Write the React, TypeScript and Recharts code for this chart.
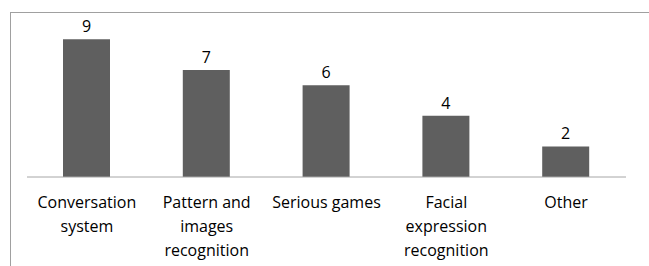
import { Bar, BarChart, LabelList, XAxis, YAxis } from "recharts";

const categories = [
  "Conversation\nsystem",
  "Pattern and\nimages\nrecognition",
  "Serious games",
  "Facial\nexpression\nrecognition",
  "Other",
];
const counts = [9, 7, 6, 4, 2];

const data = categories.map((name, i) => ({ name, count: counts[i] }));

const FONT = "'Open Sans', sans-serif";

function WrappedTick({ x, y, payload }: { x?: number; y?: number; payload?: { value: string } }) {
  const lines = String(payload?.value ?? "").split("\n");
  return (
    <text x={x} y={y} textAnchor="middle" fill="#000" fontFamily={FONT} fontSize={16}>
      {lines.map((line, i) => (
        <tspan key={i} x={x} dy={i === 0 ? 23 : 24}>
          {line}
        </tspan>
      ))}
    </text>
  );
}

export default function App() {
  return (
    <div style={{ position: "absolute", left: 0, top: 0, width: 649, height: 266, background: "#fff" }}>
      <div
        style={{
          position: "absolute",
          left: 10,
          top: 12,
          right: 0,
          bottom: 0,
          borderTop: "1px solid #a0a0a0",
          borderLeft: "1px solid #a0a0a0",
        }}
      />
      <BarChart
        width={649}
        height={266}
        data={data}
        margin={{ top: 24, right: 23, bottom: 0, left: 27 }}
        style={{ position: "absolute", left: 0, top: 0 }}
      >
        <XAxis
          dataKey="name"
          interval={0}
          height={89}
          tickLine={false}
          axisLine={{ stroke: "#a6a6a6" }}
          tick={<WrappedTick />}
        />
        <YAxis hide domain={[0, 10]} />
        <Bar dataKey="count" fill="#5f5f5f" barSize={47} isAnimationActive={false}>
          <LabelList dataKey="count" position="top" offset={7} fill="#000" fontFamily={FONT} fontSize={16} />
        </Bar>
      </BarChart>
    </div>
  );
}
